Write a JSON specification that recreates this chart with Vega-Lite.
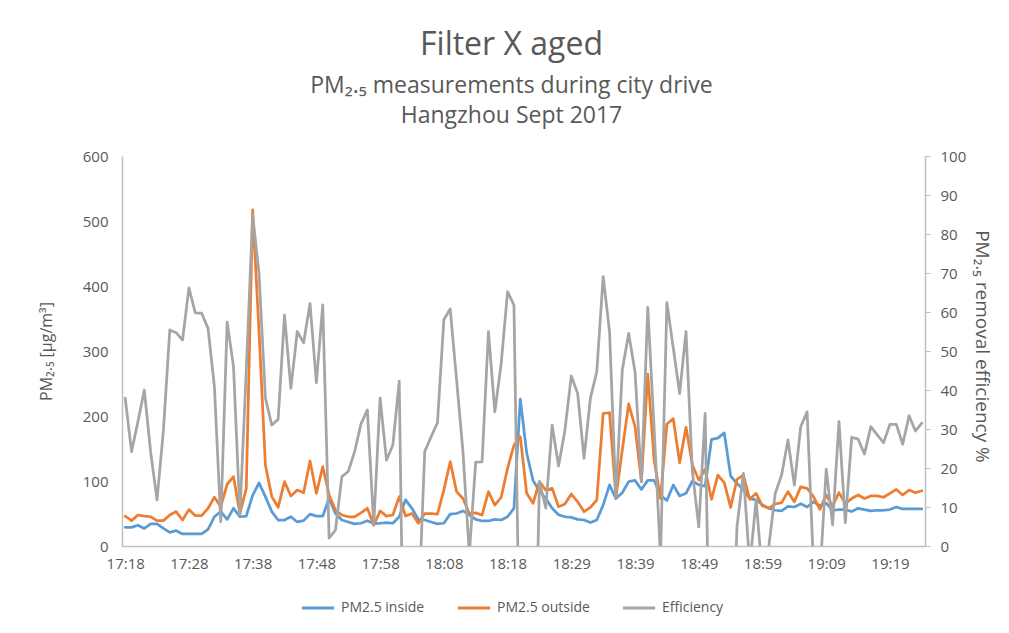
{
  "$schema": "https://vega.github.io/schema/vega-lite/v6.json",
  "width": 803,
  "height": 390,
  "autosize": {"type": "none"},
  "padding": {"left": 122, "top": 156, "right": 84, "bottom": 87},
  "background": "white",
  "title": {
    "text": "Filter X aged",
    "subtitle": ["PM₂.₅ measurements during city drive", "Hangzhou Sept 2017"],
    "font": "Open Sans", "fontSize": 32, "fontWeight": "normal", "color": "#595959",
    "subtitleFont": "Open Sans", "subtitleFontSize": 23, "subtitleColor": "#595959",
    "subtitleLineHeight": 30, "subtitlePadding": 13,
    "anchor": "middle", "offset": 20, "dx": -12
  },
  "config": {
    "view": {"stroke": null},
    "axis": {
      "labelColor": "#595959", "titleColor": "#595959",
      "labelFont": "Open Sans", "titleFont": "Open Sans",
      "domainColor": "#BFBFBF", "domainWidth": 1.5, "tickColor": "#BFBFBF",
      "grid": false, "labelFontSize": 15, "titleFontSize": 16, "titleFontWeight": "normal"
    },
    "legend": {
      "labelFont": "Open Sans", "labelFontSize": 14, "labelColor": "#595959"
    }
  },
  "data": {"values": [
    {"t":"17:18","inside":28.7,"outside":46,"eff":37.9},
    {"t":"17:19","inside":28.7,"outside":39,"eff":24.2},
    {"t":"17:20","inside":32,"outside":47.7,"eff":31.9},
    {"t":"17:21","inside":27,"outside":46,"eff":40},
    {"t":"17:22","inside":34,"outside":45,"eff":24},
    {"t":"17:23","inside":34,"outside":39,"eff":11.8},
    {"t":"17:24","inside":27,"outside":39,"eff":29.7},
    {"t":"17:25","inside":21,"outside":47.7,"eff":55.4},
    {"t":"17:26","inside":23.6,"outside":53,"eff":54.7},
    {"t":"17:27","inside":18.5,"outside":40,"eff":52.8},
    {"t":"17:28","inside":18.5,"outside":56,"eff":66.2},
    {"t":"17:29","inside":18.5,"outside":46.7,"eff":59.8},
    {"t":"17:30","inside":18.5,"outside":46.7,"eff":59.7},
    {"t":"17:31","inside":25.6,"outside":58,"eff":55.8},
    {"t":"17:32","inside":45,"outside":75,"eff":40.9},
    {"t":"17:33","inside":53,"outside":60.5,"eff":6.2},
    {"t":"17:34","inside":41,"outside":95,"eff":57.4},
    {"t":"17:35","inside":58,"outside":106.7,"eff":46},
    {"t":"17:36","inside":45,"outside":50,"eff":8},
    {"t":"17:37","inside":46,"outside":88.7,"eff":45},
    {"t":"17:38","inside":78,"outside":517,"eff":84.9},
    {"t":"17:39","inside":97,"outside":330,"eff":69.9},
    {"t":"17:40","inside":76,"outside":124.6,"eff":37.9},
    {"t":"17:41","inside":53,"outside":76,"eff":31},
    {"t":"17:42","inside":40,"outside":59.5,"eff":32.5},
    {"t":"17:43","inside":40,"outside":99,"eff":59.2},
    {"t":"17:44","inside":45,"outside":77,"eff":40.4},
    {"t":"17:45","inside":37,"outside":86,"eff":55},
    {"t":"17:46","inside":39,"outside":82,"eff":52.1},
    {"t":"17:47","inside":49,"outside":130.8,"eff":62.2},
    {"t":"17:48","inside":46,"outside":81,"eff":41.9},
    {"t":"17:49","inside":46,"outside":122,"eff":61.8},
    {"t":"17:50","inside":73,"outside":78.5,"eff":2},
    {"t":"17:51","inside":50,"outside":55,"eff":4.1},
    {"t":"17:52","inside":40,"outside":47.7,"eff":17.8},
    {"t":"17:53","inside":37,"outside":45,"eff":19.1},
    {"t":"17:54","inside":34,"outside":45,"eff":24.2},
    {"t":"17:55","inside":35,"outside":51,"eff":31.3},
    {"t":"17:56","inside":39,"outside":58,"eff":34.9},
    {"t":"17:57","inside":34,"outside":32,"eff":5.4},
    {"t":"17:58","inside":35,"outside":54,"eff":37.9},
    {"t":"17:59","inside":36,"outside":46,"eff":22},
    {"t":"18:00","inside":35,"outside":47.7,"eff":25.9},
    {"t":"18:01","inside":45,"outside":76,"eff":42.3},
    {"t":"18:02","inside":71,"outside":46,"eff":-70},
    {"t":"18:03","inside":58,"outside":50,"eff":-40},
    {"t":"18:04","inside":41,"outside":35,"eff":-18},
    {"t":"18:05","inside":40,"outside":50,"eff":24.2},
    {"t":"18:06","inside":37,"outside":50,"eff":28},
    {"t":"18:07","inside":34,"outside":49,"eff":31.6},
    {"t":"18:08","inside":35,"outside":86,"eff":58},
    {"t":"18:09","inside":49,"outside":129.7,"eff":60.8},
    {"t":"18:10","inside":50,"outside":83.6,"eff":42.6},
    {"t":"18:11","inside":54,"outside":73,"eff":24.2},
    {"t":"18:12","inside":48,"outside":50,"eff":-2},
    {"t":"18:13","inside":41,"outside":51,"eff":21.5},
    {"t":"18:14","inside":38.5,"outside":47.7,"eff":21.6},
    {"t":"18:15","inside":38.5,"outside":83.6,"eff":55},
    {"t":"18:16","inside":41,"outside":63,"eff":34.4},
    {"t":"18:17","inside":40,"outside":75,"eff":46.8},
    {"t":"18:18","inside":45,"outside":119.5,"eff":65.2},
    {"t":"18:19","inside":58,"outside":155,"eff":61.8},
    {"t":"18:20","inside":226,"outside":168,"eff":-40},
    {"t":"18:21","inside":143,"outside":81,"eff":-60},
    {"t":"18:22","inside":101,"outside":65.6,"eff":-60},
    {"t":"18:23","inside":84,"outside":99,"eff":16.5},
    {"t":"18:25","inside":73,"outside":86,"eff":9.7},
    {"t":"18:26","inside":58,"outside":88.7,"eff":31},
    {"t":"18:27","inside":48,"outside":60.5,"eff":20.5},
    {"t":"18:28","inside":45,"outside":64.6,"eff":29.7},
    {"t":"18:29","inside":44,"outside":80,"eff":43.6},
    {"t":"18:30","inside":41,"outside":68,"eff":39.1},
    {"t":"18:31","inside":40,"outside":52.8,"eff":22.5},
    {"t":"18:32","inside":36,"outside":59.5,"eff":37.9},
    {"t":"18:33","inside":40,"outside":70.8,"eff":44.7},
    {"t":"18:34","inside":63,"outside":204,"eff":69.1},
    {"t":"18:35","inside":94,"outside":205,"eff":55},
    {"t":"18:36","inside":73,"outside":75,"eff":12.6},
    {"t":"18:37","inside":82,"outside":147.7,"eff":45.1},
    {"t":"18:38","inside":99,"outside":218.5,"eff":54.5},
    {"t":"18:39","inside":101,"outside":183.6,"eff":44.7},
    {"t":"18:40","inside":87,"outside":99,"eff":16.5},
    {"t":"18:41","inside":101,"outside":264.6,"eff":61.2},
    {"t":"18:42","inside":101,"outside":132,"eff":30},
    {"t":"18:43","inside":78,"outside":73,"eff":-3},
    {"t":"18:44","inside":70,"outside":187.7,"eff":62.4},
    {"t":"18:45","inside":94,"outside":196,"eff":50.8},
    {"t":"18:46","inside":77,"outside":128,"eff":39.1},
    {"t":"18:47","inside":81,"outside":182.6,"eff":55},
    {"t":"18:48","inside":100,"outside":124.6,"eff":19.1},
    {"t":"18:49","inside":94,"outside":101.5,"eff":4.9},
    {"t":"18:50","inside":92,"outside":118,"eff":34},
    {"t":"18:51","inside":164,"outside":71.8,"eff":-60},
    {"t":"18:52","inside":166,"outside":109,"eff":-40},
    {"t":"18:53","inside":174,"outside":97.4,"eff":-30},
    {"t":"18:54","inside":108,"outside":59.5,"eff":-40},
    {"t":"18:55","inside":96,"outside":102.6,"eff":5},
    {"t":"18:56","inside":87,"outside":109,"eff":18.6},
    {"t":"18:57","inside":73,"outside":71.8,"eff":-5},
    {"t":"18:58","inside":71,"outside":81,"eff":11.8},
    {"t":"18:59","inside":63,"outside":61.5,"eff":-8},
    {"t":"19:00","inside":58,"outside":58,"eff":0},
    {"t":"19:01","inside":55,"outside":64.6,"eff":13.5},
    {"t":"19:02","inside":54,"outside":66.7,"eff":18.2},
    {"t":"19:03","inside":61,"outside":83.6,"eff":27.2},
    {"t":"19:04","inside":60,"outside":68,"eff":15.6},
    {"t":"19:05","inside":65,"outside":91,"eff":30.6},
    {"t":"19:06","inside":60,"outside":88.7,"eff":34.4},
    {"t":"19:07","inside":68,"outside":76,"eff":-5},
    {"t":"19:08","inside":62,"outside":56.4,"eff":-8},
    {"t":"19:09","inside":66,"outside":78.5,"eff":19.7},
    {"t":"19:10","inside":55,"outside":61.5,"eff":5.4},
    {"t":"19:11","inside":56,"outside":82,"eff":31.9},
    {"t":"19:12","inside":56,"outside":65.6,"eff":6},
    {"t":"19:13","inside":53,"outside":73,"eff":27.9},
    {"t":"19:14","inside":58,"outside":78.5,"eff":27.4},
    {"t":"19:15","inside":56,"outside":73,"eff":23.6},
    {"t":"19:16","inside":54,"outside":77,"eff":30.6},
    {"t":"19:17","inside":55,"outside":77,"eff":28.5},
    {"t":"19:18","inside":55,"outside":75,"eff":26.5},
    {"t":"19:19","inside":56,"outside":81,"eff":31.2},
    {"t":"19:20","inside":60,"outside":87,"eff":31.2},
    {"t":"19:21","inside":57,"outside":78.5,"eff":26.1},
    {"t":"19:22","inside":57,"outside":86,"eff":33.4},
    {"t":"19:23","inside":57,"outside":82,"eff":29.5},
    {"t":"19:24","inside":57,"outside":85,"eff":31.5}
  ]},
  "encoding": {
    "x": {
      "field": "t", "type": "ordinal", "sort": null,
      "scale": {"type": "point", "padding": 0.5},
      "axis": {
        "title": null, "labelAngle": 0, "ticks": false, "labelPadding": 10,
        "values": ["17:18","17:28","17:38","17:48","17:58","18:08","18:18","18:29","18:39","18:49","18:59","19:09","19:19"]
      }
    }
  },
  "layer": [
    {
      "transform": [{"fold": ["inside", "outside"], "as": ["series", "value"]}],
      "mark": {"type": "line", "strokeWidth": 2.75, "strokeJoin": "round", "strokeCap": "round", "clip": true},
      "encoding": {
        "y": {
          "field": "value", "type": "quantitative",
          "scale": {"domain": [0, 600], "nice": false},
          "axis": {
            "orient": "left", "values": [0, 100, 200, 300, 400, 500, 600],
            "ticks": false, "labelPadding": 14,
            "title": "PM₂.₅ [µg/m³]", "titlePadding": 28
          }
        },
        "color": {
          "field": "series", "type": "nominal",
          "scale": {"domain": ["inside", "outside", "eff"], "range": ["#5B9BD5", "#ED7D31", "#A5A5A5"]},
          "legend": {
            "title": null, "orient": "none", "direction": "horizontal",
            "legendX": 178, "legendY": 434,
            "symbolType": "stroke", "symbolSize": 1050, "symbolStrokeWidth": 3,
            "columnPadding": 26, "labelOffset": 5,
            "labelExpr": "datum.value == 'inside' ? 'PM2.5 inside' : (datum.value == 'outside' ? 'PM2.5 outside' : 'Efficiency')"
          }
        }
      }
    },
    {
      "mark": {"type": "line", "strokeWidth": 2.75, "strokeJoin": "round", "strokeCap": "round", "clip": true},
      "encoding": {
        "y": {
          "field": "eff", "type": "quantitative",
          "scale": {"domain": [0, 100], "nice": false},
          "axis": {
            "orient": "right", "values": [0, 10, 20, 30, 40, 50, 60, 70, 80, 90, 100],
            "ticks": true, "tickSize": 5, "labelPadding": 10,
            "title": "PM₂.₅ removal efficiency %", "titleFontSize": 19, "titlePadding": 6, "titleY": 190
          }
        },
        "color": {"datum": "eff", "type": "nominal"}
      }
    }
  ],
  "resolve": {"scale": {"y": "independent"}}
}
